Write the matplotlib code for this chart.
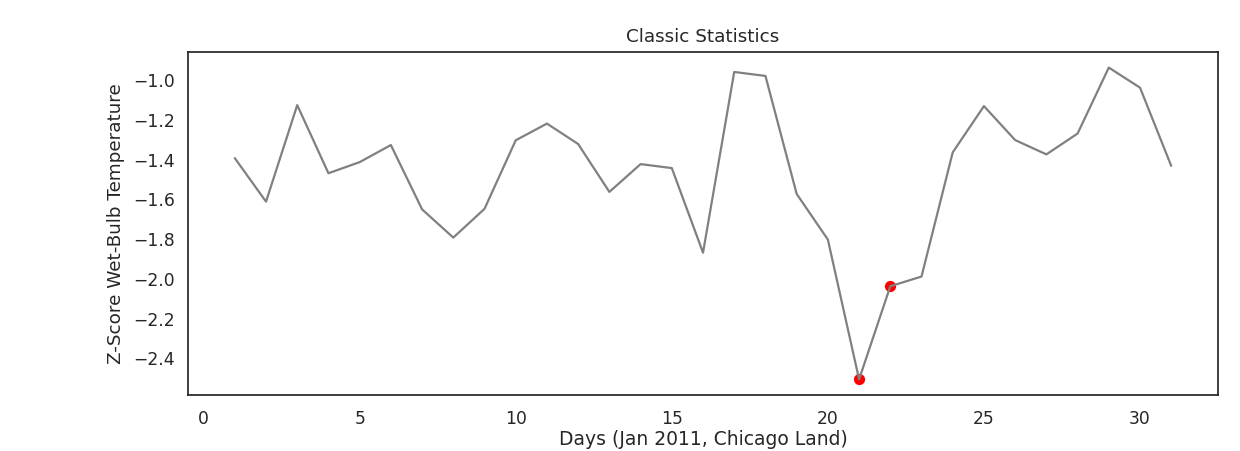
import matplotlib
matplotlib.use("Agg")
import matplotlib.pyplot as plt
import seaborn as sns

sns.set_theme(style="white", context="notebook")
plt.rcParams["font.family"] = ["DejaVu Sans"]

days = list(range(1, 32))
zscores = [-1.392, -1.611, -1.125, -1.468, -1.412, -1.326, -1.650, -1.792,
           -1.647, -1.302, -1.218, -1.321, -1.562, -1.422, -1.442, -1.868,
           -0.958, -0.978, -1.572, -1.802, -2.506, -2.037, -1.988, -1.363,
           -1.130, -1.301, -1.373, -1.268, -0.936, -1.037, -1.431]

# days flagged as extreme cold events
event_days = [21, 22]
event_scores = [zscores[d - 1] for d in event_days]

fig = plt.figure(figsize=(12.4, 4.51), dpi=100)
ax = fig.add_axes([0.1516, 0.1242, 0.8307, 0.7605])

ax.scatter(event_days, event_scores, color="red", s=50, zorder=2)
ax.plot(days, zscores, color="grey", linewidth=1.6, zorder=3)

ax.set_title("Classic Statistics", fontsize=13.2, pad=7)
ax.set_xlabel("Days (Jan 2011, Chicago Land)", fontsize=13.5, labelpad=2)
ax.set_ylabel("Z-Score Wet-Bulb Temperature", fontsize=13.2, labelpad=6)
ax.set_xticks([0, 5, 10, 15, 20, 25, 30])
ax.set_yticks([-1.0, -1.2, -1.4, -1.6, -1.8, -2.0, -2.2, -2.4])
ax.tick_params(axis="both", labelsize=12.3)
ax.tick_params(axis="x", pad=4.5)

fig.savefig("out.png", dpi=100)
